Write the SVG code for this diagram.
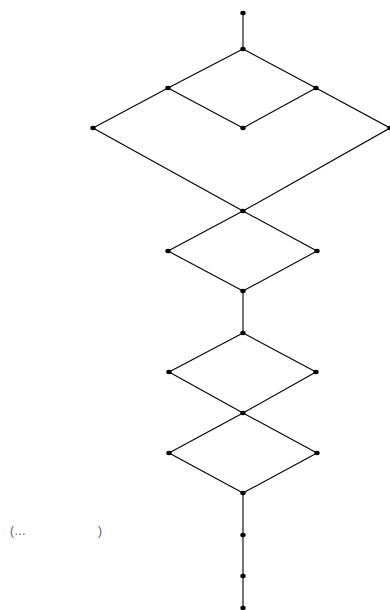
<svg xmlns="http://www.w3.org/2000/svg" width="390" height="610" viewBox="0 0 390 610">
<style>
.e{stroke:#000;stroke-width:1.1;fill:none}
.n{fill:#000}
.t{font-family:"Liberation Sans",Arial,sans-serif;font-size:12px;fill:#555}
</style>
<rect width="390" height="610" fill="#fff"/>
<g id="connectors">
<line class="e" x1="243" y1="13" x2="243" y2="49"/>
<line class="e" x1="243" y1="49" x2="168" y2="88"/>
<line class="e" x1="243" y1="49" x2="316" y2="88"/>
<line class="e" x1="168" y1="88" x2="243" y2="128"/>
<line class="e" x1="316" y1="88" x2="243" y2="128"/>
<line class="e" x1="168" y1="88" x2="93" y2="128"/>
<line class="e" x1="316" y1="88" x2="390" y2="128"/>
<line class="e" x1="93" y1="128" x2="243" y2="211"/>
<line class="e" x1="390" y1="128" x2="243" y2="211"/>
<line class="e" x1="243" y1="211" x2="168" y2="251"/>
<line class="e" x1="243" y1="211" x2="317" y2="251"/>
<line class="e" x1="168" y1="251" x2="243" y2="291"/>
<line class="e" x1="317" y1="251" x2="243" y2="291"/>
<line class="e" x1="243" y1="291" x2="243" y2="333"/>
<line class="e" x1="243" y1="333" x2="169" y2="372"/>
<line class="e" x1="243" y1="333" x2="316" y2="372"/>
<line class="e" x1="169" y1="372" x2="243" y2="413"/>
<line class="e" x1="316" y1="372" x2="243" y2="413"/>
<line class="e" x1="243" y1="413" x2="169" y2="453"/>
<line class="e" x1="243" y1="413" x2="317" y2="453"/>
<line class="e" x1="169" y1="453" x2="243" y2="493"/>
<line class="e" x1="317" y1="453" x2="243" y2="493"/>
<line class="e" x1="243" y1="493" x2="243" y2="608"/>
</g>
<g id="nA"><ellipse class="n" cx="243" cy="13" rx="2.7" ry="2.2"/></g>
<g id="nB"><ellipse class="n" cx="243" cy="49" rx="2.7" ry="2.2"/></g>
<g id="nC"><ellipse class="n" cx="168" cy="88" rx="2.7" ry="2.2"/></g>
<g id="nD"><ellipse class="n" cx="316" cy="88" rx="2.7" ry="2.2"/></g>
<g id="nE"><ellipse class="n" cx="243" cy="128" rx="2.7" ry="2.2"/></g>
<g id="nF"><ellipse class="n" cx="93" cy="128" rx="2.7" ry="2.2"/></g>
<g id="nG"><ellipse class="n" cx="390" cy="128" rx="2.7" ry="2.2"/></g>
<g id="nH"><ellipse class="n" cx="243" cy="211" rx="2.7" ry="2.2"/></g>
<g id="nI"><ellipse class="n" cx="168" cy="251" rx="2.7" ry="2.2"/></g>
<g id="nJ"><ellipse class="n" cx="317" cy="251" rx="2.7" ry="2.2"/></g>
<g id="nK"><ellipse class="n" cx="243" cy="291" rx="2.7" ry="2.2"/></g>
<g id="nL"><ellipse class="n" cx="243" cy="333" rx="2.7" ry="2.2"/></g>
<g id="nM"><ellipse class="n" cx="169" cy="372" rx="2.7" ry="2.2"/></g>
<g id="nN"><ellipse class="n" cx="316" cy="372" rx="2.7" ry="2.2"/></g>
<g id="nO"><ellipse class="n" cx="243" cy="413" rx="2.7" ry="2.2"/></g>
<g id="nP"><ellipse class="n" cx="169" cy="453" rx="2.7" ry="2.2"/></g>
<g id="nQ"><ellipse class="n" cx="317" cy="453" rx="2.7" ry="2.2"/></g>
<g id="nR"><ellipse class="n" cx="243" cy="493" rx="2.7" ry="2.2"/></g>
<g id="nS"><ellipse class="n" cx="243" cy="535" rx="2.7" ry="2.2"/></g>
<g id="nT"><ellipse class="n" cx="243" cy="576" rx="2.7" ry="2.2"/></g>
<g id="nU"><ellipse class="n" cx="243" cy="608" rx="2.7" ry="2.2"/></g>
<g id="label">
<text class="t" x="10" y="535">(…</text>
<text class="t" x="98" y="535">)</text>
</g>
</svg>
